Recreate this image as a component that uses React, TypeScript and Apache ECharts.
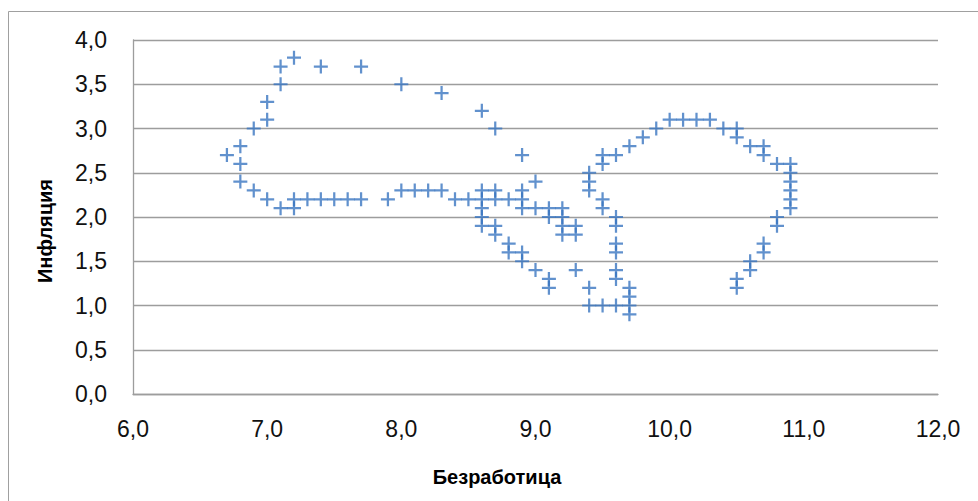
import React, { useEffect, useRef } from "react";
import * as echarts from "echarts";

// Безработица (x) and Инфляция (y)
const unemployment: number[] = [
  6.7, 6.8, 6.8, 6.8, 6.9, 6.9, 7.0, 7.0, 7.0, 7.1, 7.1, 7.1, 7.2, 7.2, 7.2,
  7.3, 7.4, 7.4, 7.5, 7.6, 7.7, 7.7, 7.9, 8.0, 8.0, 8.1, 8.2, 8.3, 8.3, 8.4,
  8.5, 8.6, 8.6, 8.6, 8.6, 8.6, 8.6, 8.7, 8.7, 8.7, 8.7, 8.7, 8.8, 8.8, 8.8,
  8.9, 8.9, 8.9, 8.9, 8.9, 8.9, 9.0, 9.0, 9.0, 9.1, 9.1, 9.1, 9.1, 9.2, 9.2,
  9.2, 9.2, 9.3, 9.3, 9.3, 9.4, 9.4, 9.4, 9.4, 9.4, 9.5, 9.5, 9.5, 9.5, 9.5,
  9.6, 9.6, 9.6, 9.6, 9.6, 9.6, 9.6, 9.6, 9.7, 9.7, 9.7, 9.7, 9.7, 9.8, 9.9,
  10.0, 10.1, 10.2, 10.3, 10.4, 10.5, 10.5, 10.5, 10.5, 10.6, 10.6, 10.6,
  10.7, 10.7, 10.7, 10.7, 10.8, 10.8, 10.8, 10.9, 10.9, 10.9, 10.9, 10.9, 10.9,
];
const inflation: number[] = [
  2.7, 2.8, 2.6, 2.4, 2.3, 3.0, 3.1, 3.3, 2.2, 3.5, 3.7, 2.1, 3.8, 2.1, 2.2,
  2.2, 2.2, 3.7, 2.2, 2.2, 2.2, 3.7, 2.2, 3.5, 2.3, 2.3, 2.3, 2.3, 3.4, 2.2,
  2.2, 3.2, 2.3, 2.2, 2.1, 2.0, 1.9, 3.0, 2.3, 2.2, 1.9, 1.8, 2.2, 1.7, 1.6,
  2.7, 2.3, 2.2, 2.1, 1.6, 1.5, 2.4, 2.1, 1.4, 2.1, 2.0, 1.3, 1.2, 2.1, 2.0,
  1.9, 1.8, 1.9, 1.8, 1.4, 2.5, 2.4, 2.3, 1.2, 1.0, 2.7, 2.6, 2.2, 2.1, 1.0,
  2.7, 2.0, 1.9, 1.7, 1.6, 1.4, 1.3, 1.0, 2.8, 1.2, 1.1, 1.0, 0.9, 2.9, 3.0,
  3.1, 3.1, 3.1, 3.1, 3.0, 3.0, 2.9, 1.3, 1.2, 2.8, 1.5, 1.4,
  2.8, 2.7, 1.7, 1.6, 2.6, 2.0, 1.9, 2.6, 2.5, 2.4, 2.3, 2.2, 2.1,
];

const xTitle = "Безработица";
const yTitle = "Инфляция";

const fmt = (v: number) => v.toFixed(1).replace(".", ",");

export default function App() {
  const ref = useRef<HTMLDivElement>(null);

  useEffect(() => {
    if (!ref.current) return;
    const chart = echarts.init(ref.current, undefined, { renderer: "svg" });
    const points = unemployment.map((u, i) => [u, inflation[i]]);
    const plus =
      "path://M4.2,0 L5.8,0 L5.8,4.2 L10,4.2 L10,5.8 L5.8,5.8 L5.8,10 L4.2,10 L4.2,5.8 L0,5.8 L0,4.2 L4.2,4.2 Z";
    const labelStyle = {
      color: "#111",
      fontFamily: "Liberation Sans, Arial, sans-serif",
      fontSize: 23,
    };
    chart.setOption({
      animation: false,
      backgroundColor: "#fff",
      grid: { left: 133, right: 40, top: 40, bottom: 107, containLabel: false },
      xAxis: {
        type: "value",
        min: 6,
        max: 12,
        interval: 1,
        axisLine: { show: true, lineStyle: { color: "#9d9d9d", width: 1.3 } },
        axisTick: { show: false },
        splitLine: { show: false },
        axisLabel: { ...labelStyle, margin: 23, formatter: fmt },
      },
      yAxis: {
        type: "value",
        min: 0,
        max: 4,
        interval: 0.5,
        axisLine: { show: true, lineStyle: { color: "#9d9d9d", width: 1.3 } },
        axisTick: { show: false },
        splitLine: { show: true, lineStyle: { color: "#9d9d9d", width: 1.3 } },
        axisLabel: { ...labelStyle, margin: 26, formatter: fmt },
      },
      series: [
        {
          type: "scatter",
          data: points,
          symbol: plus,
          symbolSize: 14,
          itemStyle: { color: "#3a76c0" },
        },
      ],
      graphic: [
        {
          type: "rect",
          shape: { x: 8.5, y: 11.5, width: 1100, height: 700 },
          style: { fill: "none", stroke: "#a0a0a0", lineWidth: 1 },
          silent: true,
        },
        {
          type: "text",
          x: 497,
          y: 477,
          style: {
            text: xTitle,
            fill: "#000",
            font: "bold 20px 'Liberation Sans', Arial, sans-serif",
            textAlign: "center",
            textVerticalAlign: "middle",
          },
        },
        {
          type: "text",
          x: 45,
          y: 231,
          rotation: Math.PI / 2,
          style: {
            text: yTitle,
            fill: "#000",
            font: "bold 20px 'Liberation Sans', Arial, sans-serif",
            textAlign: "center",
            textVerticalAlign: "middle",
          },
        },
      ],
    });
    return () => chart.dispose();
  }, []);

  return (
    <div
      ref={ref}
      style={{ position: "fixed", left: 0, top: 0, width: 978, height: 501 }}
    />
  );
}
